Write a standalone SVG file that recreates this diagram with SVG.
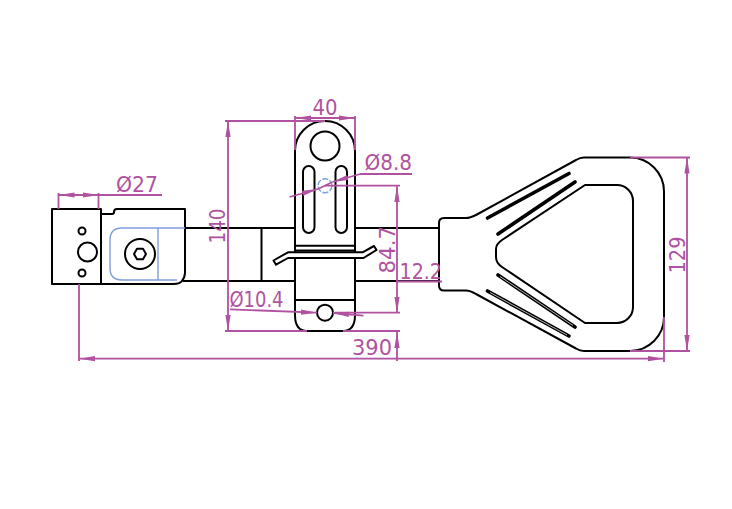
<svg xmlns="http://www.w3.org/2000/svg" width="732" height="509" viewBox="0 0 732 509">
<defs>
<marker id="ah" viewBox="0 0 16 6" refX="16" refY="3" markerWidth="16" markerHeight="6" markerUnits="userSpaceOnUse" orient="auto-start-reverse"><path d="M0 0.4L16 3L0 5.6z" fill="#b0529f"/></marker>
</defs>
<style>
.k{fill:none;stroke:#000;stroke-width:2;stroke-linejoin:round}
.w{fill:#fff;stroke:#000;stroke-width:2;stroke-linejoin:round}
.b{fill:none;stroke:#7f9fdc;stroke-width:1.4}
.d{fill:none;stroke:#b0529f;stroke-width:1.800}
.a{marker-start:url(#ah);marker-end:url(#ah)}
.e{marker-end:url(#ah)}
text{font-family:"DejaVu Sans",sans-serif;font-size:21px;fill:#b0529f}
</style>
<rect width="732" height="509" fill="#fff"/>
<g id="shaft">
<path class="k" d="M185 228H295M355 228H439M183 281H295M355 281H439M261.500 228V281"/>
</g>
<g id="clamp">
<rect class="k" x="52" y="209" width="49" height="75"/>
<path class="k" d="M101 214H112Q114 214 114 212Q114 209 117 209H185V273Q184 284 174 284H101"/>
<circle class="k" cx="82" cy="231" r="3.500"/>
<circle class="k" cx="87.500" cy="252" r="9.500"/>
<circle class="k" cx="82" cy="273" r="3.500"/>
<circle class="k" cx="140" cy="254" r="15"/>
<path class="k" d="M146 254L143 259.200H137L134 254L137 248.800H143Z"/>
<path class="b" d="M185 228H122Q110 228 110 240V268Q110 280 122 280H177M158 228V280"/>
</g>
<g id="plate">
<path class="w" d="M295 252V151A30 30 0 0 1 355 151V252M355 258V315Q355 331 343 331H307Q295 331 295 315V258"/>
<circle class="k" cx="325" cy="146" r="14.500"/>
<rect class="k" x="303" y="166" width="11.500" height="67" rx="5.700"/>
<rect class="k" x="335.500" y="166" width="11.500" height="67" rx="5.700"/>
<path class="k" d="M295 245.700H355M295 250.500H355M295 300H355"/>
<circle cx="325" cy="185.700" r="7" fill="none" stroke="#7f9fdc" stroke-width="1.400" stroke-dasharray="6 1.500"/>
<circle class="k" cx="325" cy="312.700" r="8"/>
</g>
<g id="wire">
<path class="w" d="M273.500 260.500L288 252.300H362.500L374 246L376.500 250L363.500 258H288L276 264.700Z"/>
</g>
<g id="handle">
<path class="k" d="M439 223Q439 218 444 218H466Q470 218 476 215L576 160Q580 157.500 584 157.500H630A34 34 0 0 1 664 191.500V317A34 34 0 0 1 630 351H584Q580 351 576 348.500L476 294Q470 290.500 466 290.500H444Q439 290.500 439 285.500Z"/>
<path class="k" d="M585 185H617A16 16 0 0 1 633 201V307A16 16 0 0 1 617 323H585L502 267Q496 263 496 257V249Q496 244 502 240Z"/>
<path stroke="#000" stroke-width="3.600" stroke-linecap="round" fill="none" d="M487.500 218L569 173.500M498 234L575 182M498 275L575 327M487.500 291L569 336"/>
<path stroke="#fff" stroke-width="0.700" fill="none" d="M490 292.500L567 335M500 276.500L573 325.500"/>
</g>
<g id="connectors">
<path class="d a" d="M58.500 195H98.500"/>
<path class="d" d="M98.500 195H162M58.500 193V209M98.500 193V209"/>
<path class="d a" d="M295 118H355"/>
<path class="d" d="M295 116V150M355 116V150"/>
<path class="d a" d="M228 121V331"/>
<path class="d" d="M225 121H325M225 331H307M343 331H400"/>
<path class="d a" d="M397 186V312.700"/>
<path class="d" d="M325 185.700H400M335 312.700H400"/>
<path class="d e" d="M289.500 197L318 189"/>
<path class="d e" d="M360 174L332.500 182"/>
<path class="d" d="M360 174H412M318 189L332.500 182"/>
<path class="d e" d="M230 309.300L317 312.700"/>
<path class="d e" d="M363.500 315.700L333 313"/>
<path class="d" d="M397 281.500H442"/>
<path class="d e" d="M397 361V332"/>
<path class="d a" d="M79 358.700H664"/>
<path class="d" d="M79 284V361M664 317V362"/>
<path class="d a" d="M687 157.500V351"/>
<path class="d" d="M630 157.500H690M630 351H690"/>
</g>
<g id="labels">
<text x="116" y="191.500" textLength="42" lengthAdjust="spacingAndGlyphs">Ø27</text>
<text x="312.500" y="115" textLength="25" lengthAdjust="spacingAndGlyphs">40</text>
<text x="364.500" y="170" textLength="47.500" lengthAdjust="spacingAndGlyphs">Ø8.8</text>
<text x="229.500" y="306.500" textLength="54" lengthAdjust="spacingAndGlyphs">Ø10.4</text>
<text x="399.500" y="279" textLength="42.500" lengthAdjust="spacingAndGlyphs">12.2</text>
<text x="352" y="355" textLength="40" lengthAdjust="spacingAndGlyphs">390</text>
<text transform="translate(225 243.500) rotate(-90)" textLength="35" lengthAdjust="spacingAndGlyphs">140</text>
<text transform="translate(395 273.500) rotate(-90)" textLength="47.500" lengthAdjust="spacingAndGlyphs">84.7</text>
<text transform="translate(685 273.500) rotate(-90)" textLength="37" lengthAdjust="spacingAndGlyphs">129</text>
</g>
</svg>
